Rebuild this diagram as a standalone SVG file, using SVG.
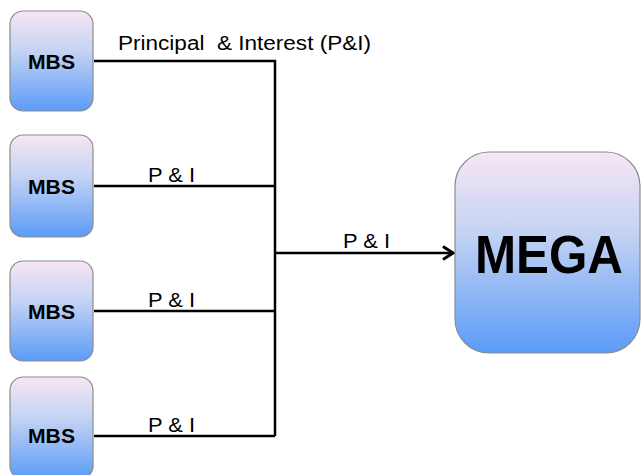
<svg xmlns="http://www.w3.org/2000/svg" width="641" height="475" viewBox="0 0 641 475">
<style>
.box{stroke:#8c8c8c;stroke-width:1.2;fill:url(#g)}
.mbs{font-family:"Liberation Sans",Arial,sans-serif;font-weight:bold;font-size:21px;fill:#000}
.lbl{font-family:"Liberation Sans",Arial,sans-serif;font-size:20px;fill:#000;white-space:pre}
.ln{stroke:#000;stroke-width:2.5;fill:none}
</style>
<defs>
<linearGradient id="g" x1="0" y1="0" x2="0" y2="1">
<stop offset="0" stop-color="#f7e6f4"/>
<stop offset="0.4" stop-color="#c4d3f3"/>
<stop offset="1" stop-color="#5b9bf7"/>
</linearGradient>
<marker id="arr" markerWidth="16" markerHeight="16" refX="12" refY="8" orient="auto" markerUnits="userSpaceOnUse">
<path d="M2,1.5 L12,8 L2,14.5" fill="none" stroke="#000" stroke-width="3"/>
</marker>
</defs>
<g id="connectors">
<path class="ln" d="M94,61 H275 V436"/>
<path class="ln" d="M94,186 H275"/>
<path class="ln" d="M94,311 H275"/>
<path class="ln" d="M94,436 H275"/>
<path class="ln" d="M275,253 H453" stroke-width="3" marker-end="url(#arr)"/>
<text class="lbl" x="118" y="50" textLength="253" lengthAdjust="spacingAndGlyphs" xml:space="preserve">Principal  &amp; Interest (P&amp;I)</text>
<text class="lbl" x="148" y="182" textLength="47" lengthAdjust="spacingAndGlyphs">P &amp; I</text>
<text class="lbl" x="148" y="307" textLength="47" lengthAdjust="spacingAndGlyphs">P &amp; I</text>
<text class="lbl" x="148" y="432" textLength="47" lengthAdjust="spacingAndGlyphs">P &amp; I</text>
<text class="lbl" x="343" y="248" textLength="47" lengthAdjust="spacingAndGlyphs">P &amp; I</text>
</g>
<g id="mbs1"><rect class="box" x="10" y="11" width="83" height="100" rx="13"/><text class="mbs" x="51.5" y="69" text-anchor="middle" textLength="47" lengthAdjust="spacingAndGlyphs">MBS</text></g>
<g id="mbs2"><rect class="box" x="10" y="135" width="83" height="102" rx="13"/><text class="mbs" x="51.5" y="194" text-anchor="middle" textLength="47" lengthAdjust="spacingAndGlyphs">MBS</text></g>
<g id="mbs3"><rect class="box" x="10" y="261" width="83" height="100" rx="13"/><text class="mbs" x="51.5" y="319" text-anchor="middle" textLength="47" lengthAdjust="spacingAndGlyphs">MBS</text></g>
<g id="mbs4"><rect class="box" x="10" y="377" width="83" height="102" rx="13"/><text class="mbs" x="51.5" y="443" text-anchor="middle" textLength="47" lengthAdjust="spacingAndGlyphs">MBS</text></g>
<g id="mega"><rect class="box" x="455" y="152" width="185" height="201" rx="34"/><text x="549" y="273" text-anchor="middle" font-family="Liberation Sans, Arial, sans-serif" font-weight="bold" font-size="54" textLength="148" lengthAdjust="spacingAndGlyphs">MEGA</text></g>
</svg>
